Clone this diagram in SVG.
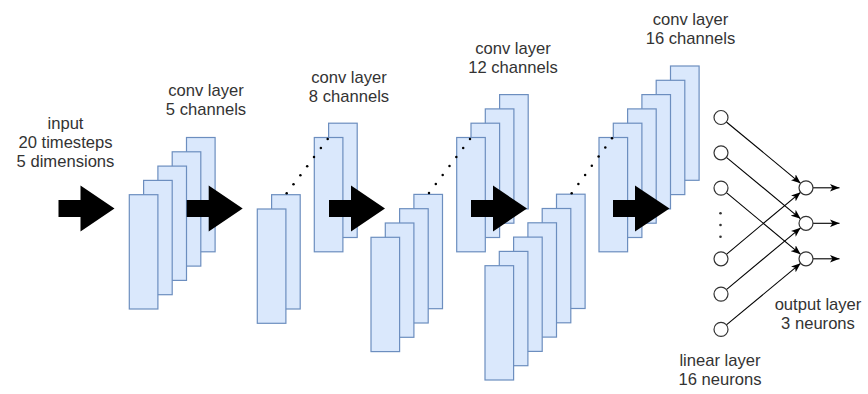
<svg xmlns="http://www.w3.org/2000/svg" width="868" height="394" viewBox="0 0 868 394">
<defs>
<style>
.ch{fill:#dae8fc;stroke:#6c8ebf;stroke-width:1.2}
.big{fill:#000}
.lbl{font-family:"Liberation Sans",Arial,Helvetica,sans-serif;font-size:16.6px;fill:#333;text-anchor:middle}
.dot{fill:#000}
.neu{fill:#fff;stroke:#333;stroke-width:1.2}
.edge{stroke:#000;stroke-width:1.1;fill:none;marker-end:url(#ah)}
</style>
<marker id="ah" viewBox="0 0 10 8" refX="10" refY="4" markerWidth="9.5" markerHeight="8" markerUnits="userSpaceOnUse" orient="auto">
<path d="M0,0 L10,4 L0,8 L2.5,4 Z" fill="#000"/>
</marker>
</defs>
<rect width="868" height="394" fill="#fff"/>

<g id="input">
<text class="lbl" x="65.5" y="129">input</text>
<text class="lbl" x="65.5" y="148">20 timesteps</text>
<text class="lbl" x="65.5" y="167">5 dimensions</text>
</g>

<g id="conv1">
<rect class="ch" x="186.5" y="137.5" width="28.6" height="114.3"/>
<rect class="ch" x="172.2" y="151.8" width="28.6" height="114.3"/>
<rect class="ch" x="157.9" y="166.1" width="28.6" height="114.3"/>
<rect class="ch" x="143.6" y="180.4" width="28.6" height="114.3"/>
<rect class="ch" x="129.3" y="194.7" width="28.6" height="114.3"/>
<text class="lbl" x="206" y="96">conv layer</text>
<text class="lbl" x="206" y="115">5 channels</text>
</g>

<g id="conv2">
<rect class="ch" x="271.6" y="194.7" width="28.6" height="114.3"/>
<rect class="ch" x="257.3" y="209" width="28.6" height="114.3"/>
<rect class="ch" x="328.6" y="123.2" width="28.6" height="114.3"/>
<rect class="ch" x="314.3" y="137.5" width="28.6" height="114.3"/>
<g id="conv2-dots">
<circle class="dot" cx="286.7" cy="193.3" r="1.25"/>
<circle class="dot" cx="293.5" cy="184.25" r="1.25"/>
<circle class="dot" cx="300.4" cy="175.2" r="1.25"/>
<circle class="dot" cx="307.2" cy="166.15" r="1.25"/>
<circle class="dot" cx="314" cy="157.1" r="1.25"/>
<circle class="dot" cx="320.9" cy="148.05" r="1.25"/>
<circle class="dot" cx="327.7" cy="139" r="1.25"/>
</g>
<text class="lbl" x="349" y="82.7">conv layer</text>
<text class="lbl" x="349" y="101.7">8 channels</text>
</g>

<g id="conv3">
<rect class="ch" x="413.9" y="194.4" width="28.6" height="114.3"/>
<rect class="ch" x="399.6" y="208.7" width="28.6" height="114.3"/>
<rect class="ch" x="385.3" y="223" width="28.6" height="114.3"/>
<rect class="ch" x="371" y="237.3" width="28.6" height="114.3"/>
<rect class="ch" x="499.6" y="94.6" width="28.6" height="114.3"/>
<rect class="ch" x="485.3" y="108.9" width="28.6" height="114.3"/>
<rect class="ch" x="471" y="123.2" width="28.6" height="114.3"/>
<rect class="ch" x="456.7" y="137.5" width="28.6" height="114.3"/>
<g id="conv3-dots">
<circle class="dot" cx="429" cy="193" r="1.25"/>
<circle class="dot" cx="435.8" cy="184" r="1.25"/>
<circle class="dot" cx="442.7" cy="175" r="1.25"/>
<circle class="dot" cx="449.5" cy="166" r="1.25"/>
<circle class="dot" cx="456.3" cy="157" r="1.25"/>
<circle class="dot" cx="463.2" cy="148" r="1.25"/>
<circle class="dot" cx="470" cy="139" r="1.25"/>
</g>
<text class="lbl" x="513" y="54.3">conv layer</text>
<text class="lbl" x="513" y="73.3">12 channels</text>
</g>

<g id="conv4">
<rect class="ch" x="556.5" y="194.2" width="28.6" height="114.3"/>
<rect class="ch" x="542.2" y="208.5" width="28.6" height="114.3"/>
<rect class="ch" x="527.9" y="222.8" width="28.6" height="114.3"/>
<rect class="ch" x="513.6" y="237.1" width="28.6" height="114.3"/>
<rect class="ch" x="499.3" y="251.4" width="28.6" height="114.3"/>
<rect class="ch" x="485" y="265.7" width="28.6" height="114.3"/>
<rect class="ch" x="670.5" y="66" width="28.6" height="114.3"/>
<rect class="ch" x="656.2" y="80.3" width="28.6" height="114.3"/>
<rect class="ch" x="641.9" y="94.6" width="28.6" height="114.3"/>
<rect class="ch" x="627.6" y="108.9" width="28.6" height="114.3"/>
<rect class="ch" x="613.3" y="123.2" width="28.6" height="114.3"/>
<rect class="ch" x="599" y="137.5" width="28.6" height="114.3"/>
<g id="conv4-dots">
<circle class="dot" cx="571.7" cy="193.3" r="1.25"/>
<circle class="dot" cx="578.4" cy="184.1" r="1.25"/>
<circle class="dot" cx="585.1" cy="175" r="1.25"/>
<circle class="dot" cx="591.8" cy="165.8" r="1.25"/>
<circle class="dot" cx="598.6" cy="156.6" r="1.25"/>
<circle class="dot" cx="605.3" cy="147.5" r="1.25"/>
<circle class="dot" cx="612" cy="138.3" r="1.25"/>
</g>
<text class="lbl" x="690.5" y="25">conv layer</text>
<text class="lbl" x="690.5" y="44">16 channels</text>
</g>

<g id="flow-arrows">
<path class="big" d="M58.5,200 H80.5 V185.5 L114.5,208.5 L80.5,231.5 V217 H58.5 Z"/>
<path class="big" d="M186.7,200 H208.7 V185.5 L242.7,208.5 L208.7,231.5 V217 H186.7 Z"/>
<path class="big" d="M329,200 H351 V185.5 L385,208.5 L351,231.5 V217 H329 Z"/>
<path class="big" d="M471,200 H493 V185.5 L527,208.5 L493,231.5 V217 H471 Z"/>
<path class="big" d="M613,200 H635 V185.5 L669.5,208.5 L635,231.5 V217 H613 Z"/>
</g>

<g id="connectors">
<line class="edge" x1="726.4" y1="122" x2="800.6" y2="183.3"/>
<line class="edge" x1="726.4" y1="157.3" x2="800.6" y2="218.8"/>
<line class="edge" x1="726.4" y1="192.6" x2="800.6" y2="254.3"/>
<line class="edge" x1="726.4" y1="254.3" x2="800.6" y2="192.3"/>
<line class="edge" x1="726.4" y1="289.6" x2="800.6" y2="227.8"/>
<line class="edge" x1="726.4" y1="324.9" x2="800.6" y2="263.3"/>
<line class="edge" x1="813" y1="187.8" x2="839.5" y2="187.8"/>
<line class="edge" x1="813" y1="223.3" x2="839.5" y2="223.3"/>
<line class="edge" x1="813" y1="258.8" x2="839.5" y2="258.8"/>
</g>

<g id="linear">
<circle class="neu" cx="721" cy="117.5" r="7"/>
<circle class="neu" cx="721" cy="152.8" r="7"/>
<circle class="neu" cx="721" cy="188.1" r="7"/>
<circle cx="720.5" cy="213.3" r="1.3" fill="#333"/>
<circle cx="720.5" cy="225" r="1.3" fill="#333"/>
<circle cx="720.5" cy="236.7" r="1.3" fill="#333"/>
<circle class="neu" cx="721" cy="258.8" r="7"/>
<circle class="neu" cx="721" cy="294.1" r="7"/>
<circle class="neu" cx="721" cy="329.4" r="7"/>
<text class="lbl" x="720" y="366">linear layer</text>
<text class="lbl" x="720" y="385">16 neurons</text>
</g>

<g id="output">
<circle class="neu" cx="806" cy="187.8" r="7"/>
<circle class="neu" cx="806" cy="223.3" r="7"/>
<circle class="neu" cx="806" cy="258.8" r="7"/>
<text class="lbl" x="818" y="309.5">output layer</text>
<text class="lbl" x="818" y="328.5">3 neurons</text>
</g>
</svg>
